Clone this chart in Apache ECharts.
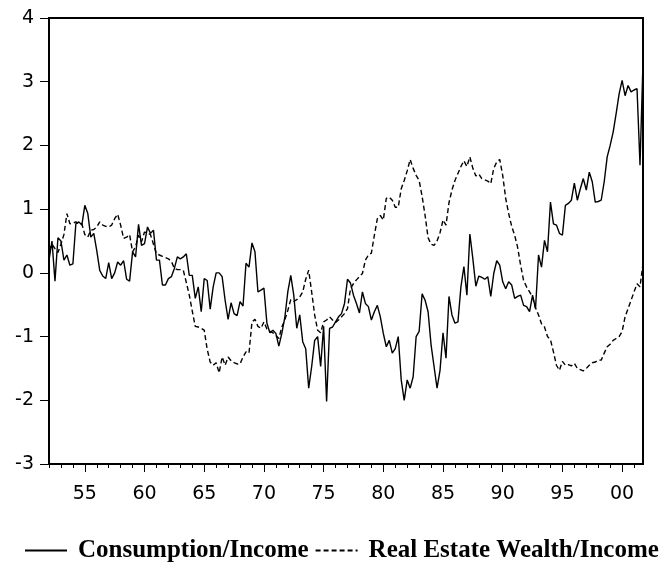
<!DOCTYPE html>
<html>
<head>
<meta charset="utf-8">
<script src="https://cdn.jsdelivr.net/npm/echarts@6/dist/echarts.min.js"></script>
<style>
  html, body { margin: 0; padding: 0; background: #fff; }
  #chart { width: 671px; height: 565px; }
</style>
</head>
<body>
<div id="chart"></div>
<script type="text/javascript">
// quarterly observations, 1952Q1 .. 2001Q4
var startYear = 1952;
var nQuarters = 200;
var labelYears = [1955, 1960, 1965, 1970, 1975, 1980, 1985, 1990, 1995, 2000];
var yTicks = { min: -3, max: 4, step: 1 };

var consumption = [
  0.2, 0.5, -0.13, 0.55, 0.5, 0.2, 0.28, 0.12, 0.14, 0.77, 0.8, 0.75, 1.06, 0.93, 0.56, 0.62, 0.35, 0.04, -0.05, -0.09,
  0.16, -0.09, 0.0, 0.17, 0.12, 0.19, -0.1, -0.13, 0.33, 0.25, 0.76, 0.43, 0.46, 0.72, 0.62, 0.67, 0.2, 0.2, -0.19, -0.19,
  -0.09, -0.06, 0.07, 0.25, 0.22, 0.25, 0.3, -0.04, -0.04, -0.4, -0.22, -0.61, -0.09, -0.12, -0.57, -0.22, 0.0, 0.0, -0.06, -0.43,
  -0.73, -0.47, -0.64, -0.67, -0.45, -0.52, 0.15, 0.09, 0.47, 0.33, -0.3, -0.27, -0.24, -0.79, -0.94, -0.9, -0.95, -1.15, -0.95, -0.7,
  -0.3, -0.04, -0.35, -0.87, -0.66, -1.08, -1.19, -1.81, -1.47, -1.06, -1.0, -1.47, -0.84, -2.02, -0.87, -0.85, -0.77, -0.69, -0.64, -0.48,
  -0.1, -0.16, -0.35, -0.48, -0.63, -0.3, -0.48, -0.53, -0.74, -0.61, -0.51, -0.69, -0.95, -1.16, -1.06, -1.26, -1.19, -1.0, -1.68, -2.0,
  -1.68, -1.81, -1.63, -1.0, -0.92, -0.33, -0.43, -0.61, -1.13, -1.47, -1.81, -1.53, -0.94, -1.34, -0.37, -0.66, -0.79, -0.77, -0.22, 0.1,
  -0.35, 0.61, 0.22, -0.21, -0.05, -0.07, -0.1, -0.06, -0.37, -0.01, 0.19, 0.12, -0.14, -0.25, -0.14, -0.19, -0.4, -0.37, -0.35, -0.51,
  -0.53, -0.61, -0.35, -0.56, 0.28, 0.09, 0.51, 0.33, 1.11, 0.77, 0.75, 0.62, 0.59, 1.06, 1.09, 1.14, 1.41, 1.14, 1.32, 1.48,
  1.3, 1.58, 1.43, 1.11, 1.12, 1.14, 1.43, 1.82, 2.0, 2.21, 2.5, 2.81, 3.02, 2.78, 2.94, 2.84, 2.87, 2.89, 1.69, 3.31
];

var realEstate = [
  0.35, 0.45, 0.38, 0.32, 0.45, 0.6, 0.93, 0.77, 0.78, 0.8, 0.77, 0.77, 0.6, 0.56, 0.67, 0.68, 0.72, 0.8, 0.75, 0.73,
  0.72, 0.75, 0.85, 0.92, 0.75, 0.54, 0.56, 0.6, 0.33, 0.41, 0.59, 0.49, 0.64, 0.63, 0.6, 0.45, 0.3, 0.28, 0.26, 0.24,
  0.22, 0.18, 0.07, 0.05, 0.05, 0.04, -0.15, -0.35, -0.6, -0.84, -0.85, -0.87, -0.9, -1.2, -1.4, -1.45, -1.41, -1.57, -1.32, -1.45,
  -1.32, -1.38, -1.41, -1.43, -1.43, -1.32, -1.24, -1.26, -0.77, -0.73, -0.84, -0.87, -0.77, -0.88, -0.92, -0.94, -0.98, -1.03, -0.85, -0.74,
  -0.59, -0.42, -0.45, -0.42, -0.38, -0.3, -0.1, 0.04, -0.3, -0.66, -0.9, -0.94, -0.77, -0.74, -0.69, -0.74, -0.78, -0.74, -0.69, -0.64,
  -0.56, -0.25, -0.17, -0.11, -0.06, -0.01, 0.2, 0.28, 0.31, 0.59, 0.85, 0.9, 0.83, 1.17, 1.19, 1.14, 1.03, 1.03, 1.32, 1.45,
  1.6, 1.78, 1.64, 1.53, 1.45, 1.2, 0.9, 0.55, 0.45, 0.43, 0.5, 0.63, 0.83, 0.75, 1.1, 1.3, 1.45, 1.56, 1.67, 1.76,
  1.67, 1.82, 1.64, 1.52, 1.55, 1.48, 1.46, 1.44, 1.4, 1.64, 1.74, 1.78, 1.53, 1.17, 0.93, 0.73, 0.59, 0.4, 0.12, -0.12,
  -0.22, -0.3, -0.38, -0.55, -0.66, -0.8, -0.85, -1.0, -1.05, -1.24, -1.45, -1.53, -1.39, -1.45, -1.44, -1.46, -1.42, -1.5, -1.52, -1.54,
  -1.5, -1.45, -1.41, -1.4, -1.37, -1.37, -1.26, -1.16, -1.12, -1.06, -1.03, -1.0, -0.92, -0.69, -0.56, -0.43, -0.3, -0.17, -0.22, 0.15
];

var quarters = [];
for (var i = 0; i < nQuarters; i++) {
    quarters.push((startYear + Math.floor(i / 4)) + 'Q' + (i % 4 + 1));
}
function isLabelQuarter(index, value) {
    var v = quarters[index];
    var y = parseInt(v.slice(0, 4), 10);
    return v.slice(4) === 'Q1' && labelYears.indexOf(y) >= 0;
}

var chart = echarts.init(document.getElementById('chart'), null, { renderer: 'canvas' });
var option = {
    animation: false,
    backgroundColor: '#fff',
    grid: {
        left: 49, right: 28, top: 18, bottom: 101,
        show: true, borderColor: '#000', borderWidth: 2
    },
    legend: {
        left: 19, top: 533,
        itemWidth: 42, itemHeight: 12, itemGap: 6,
        itemStyle: { opacity: 0 },
        textStyle: {
            fontFamily: 'Liberation Serif', fontWeight: 'bold', fontSize: 25,
            color: '#000', padding: [0, 0, 0, 6]
        },
        data: ['Consumption/Income', 'Real Estate Wealth/Income']
    },
    xAxis: [
        {
            type: 'category',
            data: quarters,
            boundaryGap: false,
            axisLine: { show: true, onZero: false, lineStyle: { color: '#000', width: 2 } },
            axisTick: {
                show: true, length: 4,
                interval: function (index) { return index % 4 === 0; },
                lineStyle: { color: '#000', width: 1 }
            },
            axisLabel: {
                interval: isLabelQuarter,
                formatter: function (v) { return v.slice(2, 4); },
                fontFamily: 'DejaVu Sans', fontSize: 19, color: '#000', margin: 21
            },
            splitLine: { show: false }
        },
        {
            type: 'category',
            data: quarters,
            boundaryGap: false,
            position: 'bottom',
            axisLine: { show: false, onZero: false },
            axisTick: {
                show: true, length: 8,
                interval: isLabelQuarter,
                lineStyle: { color: '#000', width: 1 }
            },
            axisLabel: { show: false },
            splitLine: { show: false }
        }
    ],
    yAxis: {
        type: 'value',
        min: yTicks.min, max: yTicks.max, interval: yTicks.step,
        axisLine: { show: true, lineStyle: { color: '#000', width: 2 } },
        axisTick: { show: true, length: 9, lineStyle: { color: '#000', width: 1 } },
        axisLabel: { fontFamily: 'DejaVu Sans', fontSize: 19, color: '#000', margin: 15 },
        splitLine: { show: false }
    },
    series: [
        {
            name: 'Consumption/Income',
            type: 'line',
            xAxisIndex: 0,
            data: consumption,
            symbol: 'none',
            lineStyle: { color: '#000', width: 1.4, type: 'solid' },
            itemStyle: { color: '#000' }
        },
        {
            name: 'Real Estate Wealth/Income',
            type: 'line',
            xAxisIndex: 0,
            data: realEstate,
            symbol: 'none',
            lineStyle: { color: '#000', width: 1.4, type: [5, 3] },
            itemStyle: { color: '#000' }
        }
    ]
};
chart.setOption(option);
</script>
</body>
</html>
